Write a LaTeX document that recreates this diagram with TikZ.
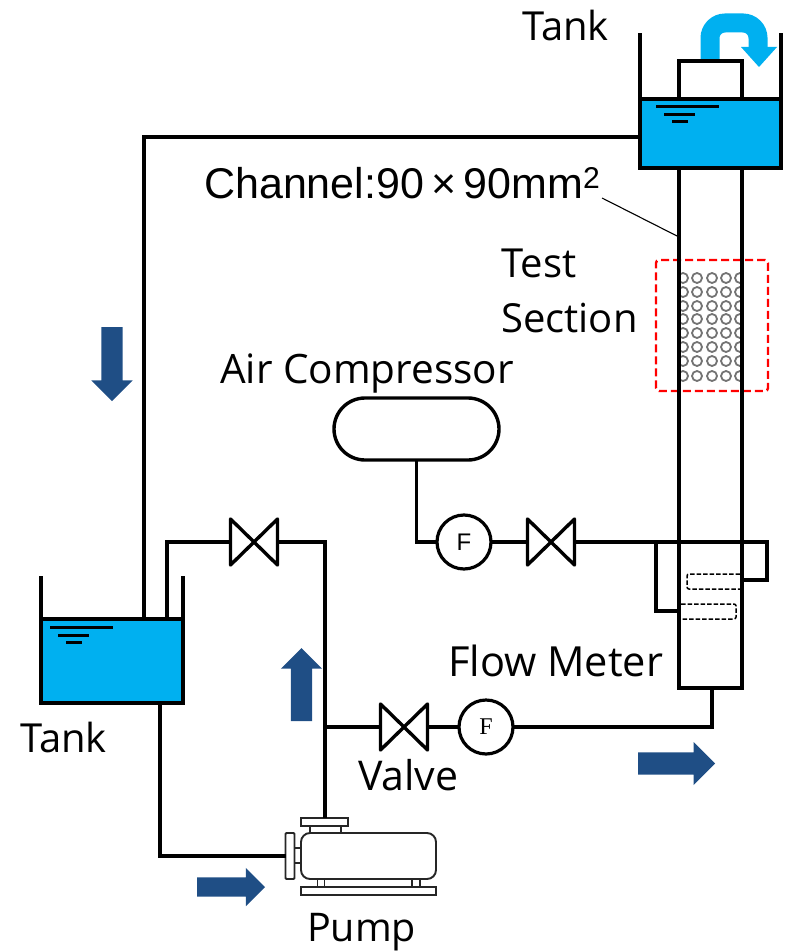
\documentclass[tikz,border=0pt]{standalone}
\usepackage{fontspec}
\setmainfont{Open Sans}
\newfontfamily\arialfont{Liberation Sans}
\newfontfamily\timesfont{Liberation Serif}
\usepackage{xcolor}
\usetikzlibrary{arrows.meta, positioning, shapes.arrows, calc}
\definecolor{waterblue}{HTML}{00B0F0}
\definecolor{flowblue}{HTML}{1F4E85}

\begin{document}
\begin{tikzpicture}[
  x=1pt, y=-1pt,
  font=\fontsize{40}{44}\selectfont,
  pipe/.style={line width=3.4pt, draw=black},
  water/.style={draw=black, fill=waterblue, line width=3.6pt, minimum height=69pt, minimum width=141pt, inner sep=0pt, outer sep=0pt},
  duct/.style={draw=black, line width=3.4pt, inner sep=0pt, outer sep=0pt},
  vbox/.style={minimum width=47pt, minimum height=46pt, inner sep=0pt, outer sep=0pt},
  meter/.style={circle, draw=black, fill=white, line width=3.2pt, minimum size=54pt, inner sep=0pt, outer sep=0pt},
  pumppart/.style={draw=black!85, line width=1.9pt, fill=white, inner sep=0pt, outer sep=0pt},
  flowarr/.style={single arrow, anchor=tip, fill=flowblue, draw=none, inner sep=10.5pt, outer sep=0pt, single arrow head extend=10pt, minimum width=41pt},
  lbl/.style={anchor=base west, inner sep=0pt},
  level/.pic={
    \draw[line width=3pt] (0,0) -- (63,0);
    \draw[line width=3pt] (8,8) -- (39,8);
    \draw[line width=3pt] (16,15) -- (32,15);
  },
]
\useasboundingbox (0,0) rectangle (786,952);

% Recirculation arrow over the top tank
\draw[waterblue, line width=19pt, rounded corners=15pt] (710,62) -- (710,23) -- (758,23) -- (758,48);
\fill[waterblue] (741,47) -- (777,47) -- (759,67) -- cycle;

% Tube bundle of the test section
\begin{scope}
  \clip (679,262) rectangle (742,390);
  \foreach \cx in {683,697,712,726,740}
    \foreach \cy in {278,292,306,319,333,347,361,376}
      \draw[black!55, line width=1.8pt] (\cx,\cy) circle (5);
\end{scope}
\node[draw=red, dash pattern=on 8pt off 4pt, line width=2.4pt, rounded corners=3pt, minimum width=112pt, minimum height=131pt, inner sep=0pt] (testbox) at (712,325.5) {};

% Tanks and channel
\node[duct, minimum width=63pt, minimum height=520pt] (channel) at (710.5,428) {};
\node[duct, minimum width=63pt, minimum height=38pt] (inlet) at (710.5,80) {};
\node[water] (tanktop) at (710.5,133.5) {};
\node[water, minimum width=142pt, minimum height=84pt] (tankleft) at (112,661) {};
\draw[pipe] (tanktop.north west) -- ++(0,-66);
\draw[pipe] (tanktop.north east) -- ++(0,-66);
\draw[pipe] (tankleft.north west) -- ++(0,-43);
\draw[pipe] (tankleft.north east) -- ++(0,-43);
\pic at (656,107) {level};
\pic at (50,627) {level};

% Injector boxes inside the channel
\draw[dash pattern=on 4.5pt off 2pt, line width=1.5pt, rounded corners=2pt] (740,574) -- (687,574) -- (687,589) -- (740,589);
\draw[dash pattern=on 4.5pt off 2pt, line width=1.5pt, rounded corners=2pt] (681,604) -- (736,604) -- (736,619) -- (681,619);

% Valves, meters, compressor
\node[vbox] (valvetop) at (254,542) {};
\node[vbox] (valvewater) at (404,727) {};
\node[vbox] (valveair) at (551,542) {};
\node[meter, font=\arialfont\fontsize{24}{26}\selectfont] (meterair) at (464,542) {F};
\node[meter, font=\timesfont\fontsize{24}{26}\selectfont] (meterwater) at (486,727) {F};
\node[duct, minimum width=165pt, minimum height=62pt, rounded corners=31pt] (compressor) at (416.5,429) {};
\foreach \v in {valvetop,valvewater,valveair}
  \draw[pipe, line join=round] (\v.north west) -- (\v.south east) -- (\v.north east) -- (\v.south west) -- cycle;

% Pump
\node[pumppart, minimum width=47pt, minimum height=8pt] (pumpflangetop) at (324.5,822) {};
\node[pumppart, minimum width=31pt, minimum height=7pt] (pumpneck) at (325.5,829.5) {};
\node[pumppart, minimum width=8pt, minimum height=15pt] (pumpsuction) at (297.5,855.5) {};
\node[pumppart, minimum width=135pt, minimum height=46pt, rounded corners=9pt] (pump) at (368.5,856) {};
\node[pumppart, minimum width=9pt, minimum height=46pt, rounded corners=1pt] (pumpflange) at (290,856) {};
\node[pumppart, minimum width=7pt, minimum height=8pt] (pumpfoota) at (321,883) {};
\node[pumppart, minimum width=8pt, minimum height=8pt] (pumpfootb) at (416,883) {};
\node[pumppart, minimum width=135pt, minimum height=8pt] (pumpbase) at (368.5,891) {};

% Piping
\coordinate (riser) at (325,542);
\coordinate (tee) at (325,727);
\draw[pipe] (tanktop.west |- 0,137) -- (144,137) -- (tankleft.north -| 144,0);
\draw[pipe] (tankleft.north -| 167,0) -- (167,542) -- (valvetop.west);
\draw[pipe] (valvetop.east) -- (riser) -- (pumpflangetop.north -| riser);
\draw[pipe] (tee) -- (valvewater.west);
\draw[pipe] (valvewater.east) -- (meterwater.west);
\draw[pipe] (meterwater.east) -- (712,727) -- (channel.south -| 712,0);
\draw[pipe] (tankleft.south -| 160,0) -- (160,856) -- (pumpflange.west);
\draw[pipe] (compressor.south) -- (meterair.west -| compressor.south) -- (meterair.west);
\draw[pipe] (meterair.east) -- (valveair.west);
\draw[pipe] (valveair.east) -- (767,542) -- (767,580) -- (channel.east |- 0,580);
\draw[pipe] (656,542) -- (656,611) -- (channel.west |- 0,611);

% Leader to the channel wall
\coordinate (leadfrom) at (602,198);
\coordinate (leadto) at (679,237);
\draw[line width=1.1pt] (leadfrom) -- (leadto);

% Flow direction arrows
\node[flowarr, minimum height=74pt, shape border rotate=270] (flowdown) at (112,401) {};
\node[flowarr, minimum height=73pt, shape border rotate=90] (flowup) at (301.5,648) {};
\node[flowarr, minimum height=77pt, minimum width=43pt] (flowout) at (715,763.5) {};
\node[flowarr, minimum height=68pt, minimum width=38pt, inner sep=9.5pt, single arrow head extend=9.5pt] (flowpump) at (265,887) {};

% Labels
\node[lbl] (labeltanktop) at (522,41) {Tank};
\node[lbl, font=\arialfont\fontsize{43}{46}\selectfont] (labelchannel) at (204,198) {Channel:90\,×\,90mm\textsuperscript{2}};
\node[lbl] (labeltest) at (501,277) {Test};
\node[lbl] (labelsection) at (501,332) {Section};
\node[lbl, font=\fontsize{40.5}{44}\selectfont] (labelair) at (220,383) {Air Compressor};
\node[lbl, font=\fontsize{41.5}{44}\selectfont] (labelflow) at (448,676) {Flow Meter};
\node[lbl] (labeltankleft) at (20,752) {Tank};
\node[lbl, font=\fontsize{41}{44}\selectfont] (labelvalve) at (358,790) {Valve};
\node[lbl, font=\fontsize{39.5}{44}\selectfont] (labelpump) at (307,941) {Pump};
\end{tikzpicture}
\end{document}
